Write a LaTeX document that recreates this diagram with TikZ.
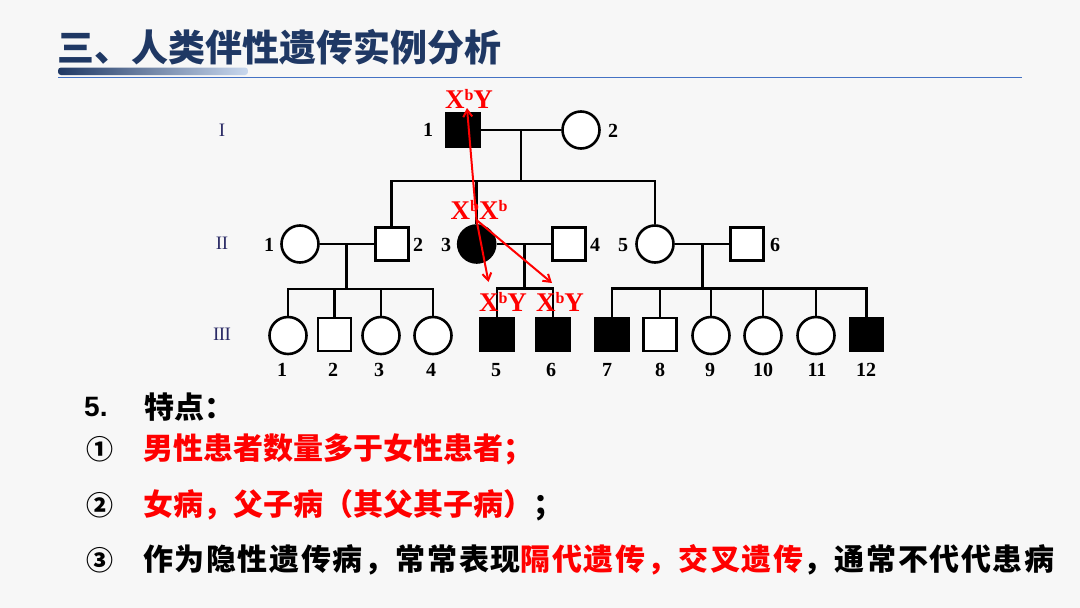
\documentclass[tikz,border=0pt]{standalone}
\usepackage{fontspec}
\setmainfont{Liberation Serif}
\newfontfamily\cjk{Noto Sans CJK SC}
\newfontfamily\cjkw[LetterSpace=5.3]{Noto Sans CJK SC}
\newfontfamily\arialf{Liberation Sans}
\usetikzlibrary{arrows.meta}
\definecolor{navy}{HTML}{1F3864}
\definecolor{barlight}{HTML}{C9D8EE}
\definecolor{rulecol}{HTML}{4472C4}
\definecolor{genblue}{HTML}{2B2B66}
\definecolor{bgcol}{HTML}{F7F7F7}
\definecolor{pred}{HTML}{FF0000}
\newcommand{\px}[1]{\fontsize{#1}{#1}\selectfont}
\newcommand{\Xb}{X\raisebox{8pt}{\px{16}b}}
\begin{document}
\begin{tikzpicture}[x=1pt,y=-1pt,
  pl/.style={line width=2.7pt, line join=miter},
  male/.style={rectangle, draw=black, line width=2.6pt, fill=white, minimum size=33pt, inner sep=0pt},
  female/.style={circle, draw=black, line width=2.6pt, fill=white, minimum size=37pt, inner sep=0pt},
  aff/.style={fill=black},
  num/.style={font=\bfseries\px{20}, inner sep=0pt},
  gen/.style={font=\px{19}, text=genblue, inner sep=0pt},
  geno/.style={font=\bfseries\px{27}, text=pred, inner sep=0pt},
  rarr/.style={draw=pred, line width=2pt, -{Straight Barb[length=7pt,width=9pt]}},
  body/.style={font=\cjk\bfseries\px{30}, anchor=west, inner sep=0pt},
  circ/.style={font=\cjk\bfseries\px{27}, inner sep=0pt}
]
\useasboundingbox (0,0) rectangle (1080,608);
\fill[bgcol] (0,0) rectangle (1080,608);

% title
\node[font=\cjk\bfseries\px{37}, text=navy, anchor=west, inner sep=0pt] (title) at (57,47) {三、人类伴性遗传实例分析};
\shade[left color=navy, right color=barlight, rounded corners=3pt] (58,67.5) rectangle (248,75);
\draw[rulecol, line width=1pt] (58,77) -- (1022,77);

% generation labels
\node[gen] (gI) at (222,130) {I};
\node[gen] (gII) at (222,243) {I\kern-0.5pt I};
\node[gen] (gIII) at (222,334) {I\kern-0.5pt I\kern-0.5pt I};

% Generation I
\node[male, aff] (I1) at (463,130) {};
\node[female] (I2) at (581,130) {};
% Generation II
\node[female] (II1) at (300,244) {};
\node[male] (II2) at (391.7,244) {};
\node[female, aff] (II3) at (476.7,244) {};
\node[male] (II4) at (568.7,244) {};
\node[female] (II5) at (655,244) {};
\node[male] (II6) at (747,244) {};
% Generation III
\node[female] (III1) at (288,335.5) {};
\node[male] (III2) at (334.5,334.5) {};
\node[female] (III3) at (381,335.5) {};
\node[female] (III4) at (433,335.5) {};
\node[male, aff] (III5) at (497,334.5) {};
\node[male, aff] (III6) at (553,334.5) {};
\node[male, aff] (III7) at (612,334.5) {};
\node[male] (III8) at (660,334.5) {};
\node[female] (III9) at (711,335.5) {};
\node[female] (III10) at (763,335.5) {};
\node[female] (III11) at (816,335.5) {};
\node[male, aff] (III12) at (866.5,334.5) {};

% bar coordinates
\coordinate (dI) at (521,130);
\coordinate (bI) at (521,181);
\coordinate (dA) at (346.7,244);
\coordinate (bA) at (346.7,289);
\coordinate (dB) at (524.3,244);
\coordinate (bB) at (524.3,288.5);
\coordinate (dC) at (702.7,244);
\coordinate (bC) at (702.7,288.5);

\begin{scope}[pl]
% marriages
\draw (I1.east) -- (I2.west);
\draw (II1.east) -- (II2.west);
\draw (II3.east) -- (II4.west);
\draw (II5.east) -- (II6.west);
% descents
\draw (dI) -- (bI);
\draw (dA) -- (bA);
\draw (dB) -- (bB);
\draw (dC) -- (bC);
% sibship I
\draw (II2.north) -- (II2.north |- bI) -- (II5.north |- bI) -- (II5.north);
\draw (II3.north) -- (II3.north |- bI);
% sibship A
\draw (III1.north) -- (III1.north |- bA) -- (III4.north |- bA) -- (III4.north);
\draw (III2.north) -- (III2.north |- bA);
\draw (III3.north) -- (III3.north |- bA);
% sibship B
\draw (III5.north) -- (III5.north |- bB) -- (III6.north |- bB) -- (III6.north);
% sibship C
\draw (III7.north) -- (III7.north |- bC) -- (III12.north |- bC) -- (III12.north);
\foreach \n in {8,9,10,11} \draw (III\n.north) -- (III\n.north |- bC);
\end{scope}

% individual numbers
\node[num] (nI1) at (428,130) {1};
\node[num] (nI2) at (613,131) {2};
\node[num] (nII1) at (269,245) {1};
\node[num] (nII2) at (418,245) {2};
\node[num] (nII3) at (446,245) {3};
\node[num] (nII4) at (595,245) {4};
\node[num] (nII5) at (623,245) {5};
\node[num] (nII6) at (775,245) {6};
\foreach \n/\x in {1/282,2/333,3/379,4/431,5/496,6/551,7/607,8/660,9/710,10/763,11/817,12/866}
  \node[num] (nIII\n) at (\x,370) {\n};

% genotypes
\node[geno] (gtI1) at (469,99) {\Xb Y};
\node[geno] (gtII3) at (479,210) {\Xb\Xb};
\node[geno] (gtIII5) at (503,302) {\Xb Y};
\node[geno] (gtIII6) at (560,302) {\Xb Y};

% arrows
\coordinate (src) at (476.5,220);
\coordinate (tI1) at (467,108);
\coordinate (tIII5) at (488.5,282);
\coordinate (tIII6) at (552,283);
\draw[rarr] (src) -- (tI1);
\draw[rarr] (src) -- (tIII5);
\draw[rarr] (src) -- (tIII6);

% text block
\node[font=\arialf\bfseries\px{28}, anchor=west, inner sep=0pt] (five) at (84,407) {5.};
\node[body] (feat) at (144,407) {特点：};
\node[circ] (c1) at (100,449) {①};
\node[body, text=pred] (t1) at (143,449) {男性患者数量多于女性患者；};
\node[circ] (c2) at (100,505) {②};
\node[body] (t2) at (143,505) {\textcolor{pred}{女病，父子病（其父其子病）}；};
\node[circ] (c3) at (100,560) {③};
\node[body, font=\cjkw\bfseries\px{30}] (t3) at (143,560) {作为隐性遗传病，常常表现\textcolor{pred}{隔代遗传，交叉遗传}，通常不代代患病};
\end{tikzpicture}
\end{document}
